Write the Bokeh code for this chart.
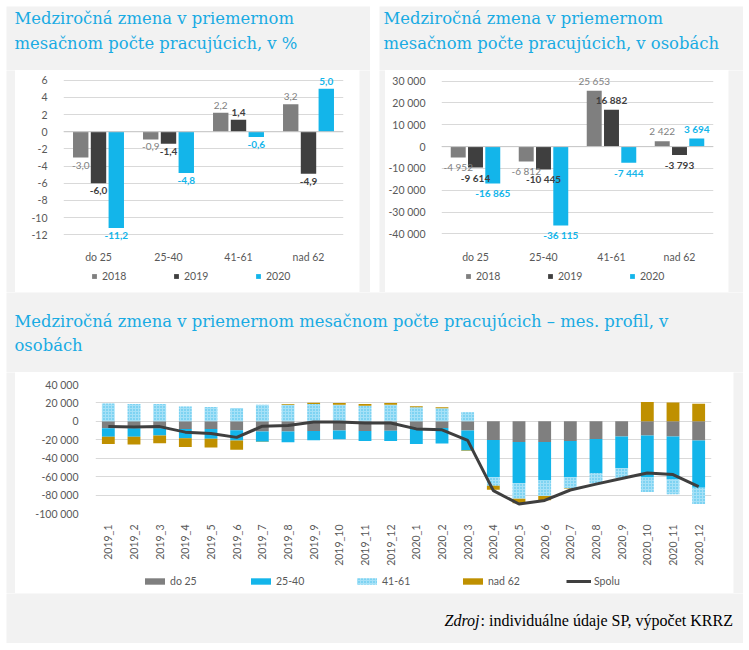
import math
from bokeh.plotting import figure
from bokeh.models import (ColumnDataSource, FactorRange, Range1d, FixedTicker,
                          Span, Legend, LegendItem)
from bokeh.layouts import column, row
from bokeh.transform import dodge
from bokeh.core.properties import value
from bokeh.embed import file_html
from bokeh.resources import INLINE

# ---------------- data ----------------
age_groups = ["do 25", "25-40", "41-61", "nad 62"]
years = ["2018", "2019", "2020"]

pct_2018 = [-3.0, -0.9, 2.2, 3.2]
pct_2019 = [-6.0, -1.4, 1.4, -4.9]
pct_2020 = [-11.2, -4.8, -0.6, 5.0]

abs_2018 = [-4952, -6812, 25653, 2422]
abs_2019 = [-9614, -10445, 16882, -3793]
abs_2020 = [-16865, -36115, -7444, 3694]

pct_ticks = [-12, -10, -8, -6, -4, -2, 0, 2, 4, 6]
pct_tick_labels = ["-12", "-10", "-8", "-6", "-4", "-2", "0", "2", "4", "6"]
abs_ticks = [-40000, -30000, -20000, -10000, 0, 10000, 20000, 30000]
abs_tick_labels = ["-40 000", "-30 000", "-20 000", "-10 000", "0",
                   "10 000", "20 000", "30 000"]

months = ["2019_1", "2019_2", "2019_3", "2019_4", "2019_5", "2019_6",
          "2019_7", "2019_8", "2019_9", "2019_10", "2019_11", "2019_12",
          "2020_1", "2020_2", "2020_3", "2020_4", "2020_5", "2020_6",
          "2020_7", "2020_8", "2020_9", "2020_10", "2020_11", "2020_12"]
m_do25 = [-7450, -7450, -7450, -8160, -8160, -9600, -11000, -11000,
          -10600, -9900, -10600, -10300, -7100, -7100, -9900, -20200,
          -22300, -22300, -21300, -19200, -16300, -15250, -16300, -20900]
m_25_40 = [-9220, -9220, -7800, -10240, -10640, -11300, -11000, -11700,
           -10000, -9600, -10700, -11000, -17400, -17000, -21700, -40100,
           -44700, -41900, -39000, -36800, -34400, -45750, -46800, -51100]
m_41_61 = [19500, 18800, 18800, 16000, 15600, 14500, 18100, 18100,
           18800, 18100, 17000, 18100, 15250, 14200, 9900, -9600,
           -17100, -16700, -12400, -11400, -10700, -15600, -16000, -17700]
m_nad62 = [-7800, -8530, -8510, -9300, -9600, -10000, -500, 700,
           1400, 1800, 1800, 1800, 1200, 1000, -500, -4200,
           -4900, -4600, -500, 0, 0, 20900, 20600, 19200]
m_spolu = [-5700, -6000, -5700, -11700, -13100, -17400, -5300, -4600,
           -700, -700, -1800, -1800, -8200, -9200, -20600, -75200,
           -89700, -85800, -74500, -68100, -62100, -56000, -57800, -70900]
m_series_names = ["do 25", "25-40", "41-61", "nad 62", "Spolu"]

big_ticks = [-100000, -80000, -60000, -40000, -20000, 0, 20000, 40000]
big_tick_labels = ["-100 000", "-80 000", "-60 000", "-40 000", "-20 000",
                   "0", "20 000", "40 000"]

title_tl = ["Medziročná zmena v priemernom", "mesačnom počte pracujúcich, v %"]
title_tr = ["Medziročná zmena v priemernom", "mesačnom počte pracujúcich, v osobách"]
title_b = ["Medziročná zmena v priemernom mesačnom počte pracujúcich – mes. profil, v",
           "osobách"]
source_italic = "Zdroj"
source_rest = ": individuálne údaje SP, výpočet KRRZ"

# ---------------- styles ----------------
BG = "#f2f2f2"
TITLE_C = "#19abe3"
C18 = "#7f7f7f"
C19 = "#3f3f3f"
C20 = "#13b5ea"
C62 = "#bf9000"
TXT = "#595959"
GRID = "#d9d9d9"
SANS = "Lato"
SERIF_T = "DejaVu Serif"
HATCH = dict(fill_color="#a6e1f7", hatch_pattern="dot", hatch_color="#3fbdeb",
             hatch_scale=3, hatch_weight=1)
YEAR_COLORS = [C18, C19, C20]


def blank(w, h, color=BG, x_range=None):
    f = figure(width=w, height=h,
               x_range=x_range if x_range is not None else Range1d(0, w),
               y_range=Range1d(0, h), output_backend="svg",
               toolbar_location=None, min_border=0,
               x_axis_location=None, y_axis_location=None,
               outline_line_color=None, background_fill_color=color,
               border_fill_color=color)
    f.grid.visible = False
    return f


def title_fig(w, h, lines, x, ys):
    f = blank(w, h)
    f.text(x=[x] * len(lines), y=ys, text=lines, text_font=value(SERIF_T),
           text_font_size="16.4px", text_color=TITLE_C,
           text_baseline="middle", text_align="left")
    return f


def add_legend(f, items, loc, gw, gh, standoff, lw):
    f.add_layout(Legend(items=items, orientation="horizontal", location=loc,
                        glyph_width=gw, glyph_height=gh, label_height=13,
                        label_standoff=standoff, label_width=lw, spacing=0,
                        padding=0, margin=0, border_line_color=None,
                        background_fill_alpha=0, label_text_font=SANS,
                        label_text_font_size="10.5px",
                        label_text_align="left",
                        label_text_color=TXT))


def fmt_pct(v):
    return f"{v:.1f}".replace(".", ",")


def fmt_abs(v):
    return f"{v:,}".replace(",", " ")


def style_axes(p):
    for ax in (p.xaxis, p.yaxis):
        ax.axis_line_color = None
        ax.major_tick_line_color = None
        ax.minor_tick_line_color = None
        ax.major_label_text_font = SANS
        ax.major_label_text_font_size = "10.5px"
        ax.major_label_text_color = TXT
    p.xgrid.visible = False
    p.ygrid.grid_line_color = GRID


def top_chart(w, h, series, ticks, tick_labels, yr, fmt, bl, br, bt, bb,
              lw, lh, lloc):
    p = figure(width=w, height=h, x_range=FactorRange(*age_groups),
               y_range=Range1d(*yr), output_backend="svg",
               toolbar_location=None, min_border_left=bl, min_border_right=br,
               min_border_top=bt, min_border_bottom=bb,
               outline_line_color=None, background_fill_color="white",
               border_fill_color="white")
    style_axes(p)
    p.yaxis.ticker = FixedTicker(ticks=ticks)
    p.yaxis.major_label_overrides = dict(zip(ticks, tick_labels))
    p.yaxis.major_label_standoff = 10
    p.xaxis.major_label_standoff = 0
    p.add_layout(Span(location=0, dimension="width", line_color="#c8c8c8",
                      line_width=1))
    offsets = [-0.254, 0.0, 0.254]
    lab_styles = ["normal", "bold", "bold"]
    # legend strip below the chart, its swatches come from the same series
    lg = blank(lw, lh, "white", x_range=FactorRange(*age_groups))
    items = []
    for vals, off, col, yname in zip(series, offsets, YEAR_COLORS, years):
        src = ColumnDataSource(dict(cat=age_groups, v=vals))
        p.vbar(x=dodge("cat", off, range=p.x_range), top="v", bottom=0,
               width=0.22, fill_color=col, line_color=None, source=src)
        r = lg.vbar(x="cat", top="v", bottom=0, width=0.22, fill_color=col,
                    line_color=None, source=src, visible=False)
        items.append(LegendItem(label=yname, renderers=[r]))
    for vals, off, col, ls in zip(series, offsets, YEAR_COLORS, lab_styles):
        neg = [i for i, v in enumerate(vals) if v < 0]
        pos = [i for i, v in enumerate(vals) if v >= 0]
        for idx, base, off_y in ((neg, "top", 4), (pos, "bottom", -4)):
            if not idx:
                continue
            s = ColumnDataSource(dict(cat=[age_groups[i] for i in idx],
                                      v=[vals[i] for i in idx],
                                      lab=[fmt(vals[i]) for i in idx]))
            p.text(x=dodge("cat", off, range=p.x_range), y="v", text="lab",
                   source=s, text_align="center", text_baseline=base,
                   y_offset=off_y, text_font=value(SANS),
                   text_font_size="10px", text_color=col,
                   text_font_style=ls)
    add_legend(lg, items, lloc, 6, 6, 5, 71)
    return p, lg


# ---------------- top charts ----------------
# frame extends a little beyond the tick range so value labels are not clipped
p_tl, lg_tl = top_chart(344, 195, [pct_2018, pct_2019, pct_2020], pct_ticks,
                        pct_tick_labels, (-13.12, 6.894), fmt_pct,
                        48, 16, 2, 14, 344, 27, (28, 10))
p_tr, lg_tr = top_chart(343, 195, [abs_2018, abs_2019, abs_2020], abs_ticks,
                        abs_tick_labels, (-44843, 33962), fmt_abs,
                        49, 15, 2, 14, 343, 27, (24, 10))

tl = column(title_fig(364, 64, title_tl, 8, [51.7, 26.7]),
            row(blank(9, 222), column(p_tl, lg_tl), blank(11, 222)))
tr = column(title_fig(364, 64, title_tr, 4, [51.7, 26.7]),
            row(blank(6, 222), column(p_tr, lg_tr), blank(15, 222)))
top_row = row(tl, blank(9, 286, "white"), tr)

# ---------------- bottom chart ----------------
p3 = figure(width=718, height=196, x_range=FactorRange(*months),
            y_range=Range1d(-100000, 40000), output_backend="svg",
            toolbar_location=None, min_border_left=80, min_border_right=22,
            min_border_top=12, min_border_bottom=52, outline_line_color=None,
            background_fill_color="white", border_fill_color="white")
style_axes(p3)
p3.yaxis.ticker = FixedTicker(ticks=big_ticks)
p3.yaxis.major_label_overrides = dict(zip(big_ticks, big_tick_labels))
p3.yaxis.major_label_standoff = 11
p3.xaxis.major_label_orientation = math.pi / 2
p3.xaxis.major_label_standoff = 5

lg3 = blank(718, 25, "white", x_range=FactorRange(*months))
items3 = []
pos_cum = [0] * len(months)
neg_cum = [0] * len(months)
bar_series = [m_do25, m_25_40, m_41_61, m_nad62]
bar_styles = [dict(fill_color=C18), dict(fill_color=C20), HATCH,
              dict(fill_color=C62)]
for vals, st, name in zip(bar_series, bar_styles, m_series_names[:4]):
    bottoms, tops = [], []
    for i, v in enumerate(vals):
        if v >= 0:
            bottoms.append(pos_cum[i]); tops.append(pos_cum[i] + v)
            pos_cum[i] += v
        else:
            bottoms.append(neg_cum[i]); tops.append(neg_cum[i] + v)
            neg_cum[i] += v
    src = ColumnDataSource(dict(m=months, b=bottoms, t=tops))
    p3.vbar(x="m", top="t", bottom="b", width=0.5, line_color=None,
            source=src, **st)
    r = lg3.vbar(x="m", top="t", bottom="b", width=0.5, line_color=None,
                 source=src, visible=False, **st)
    items3.append(LegendItem(label=name, renderers=[r]))
SPOLU_STYLE = dict(line_color=C19, line_width=3)
spolu_src = ColumnDataSource(dict(m=months, s=m_spolu))
p3.line(x="m", y="s", source=spolu_src, **SPOLU_STYLE)
rl = lg3.line(x="m", y="s", source=spolu_src, visible=False, **SPOLU_STYLE)
items3.append(LegendItem(label=m_series_names[4], renderers=[rl]))
add_legend(lg3, items3, (47, 6), 25, 8, 3, 78)

# source line
src_fig = blank(737, 50)
src_fig.text(x=[438], y=[23], text=[source_italic],
             text_font=value("Liberation Serif"), text_font_size="16px",
             text_font_style="italic", text_color="black",
             text_baseline="middle", text_align="left")
src_fig.text(x=[474], y=[23], text=[source_rest],
             text_font=value("Liberation Serif"), text_font_size="16px",
             text_color="black", text_baseline="middle", text_align="left")

bottom = column(title_fig(737, 80, title_b, 8, [51.3, 27.0]),
                row(blank(9, 221), column(p3, lg3), blank(10, 221)),
                src_fig)

content = column(top_row, bottom)
layout = column(blank(743, 6, "white"),
                row(blank(6, 637, "white"), content))

open("out.html", "w").write(file_html(layout, INLINE))
